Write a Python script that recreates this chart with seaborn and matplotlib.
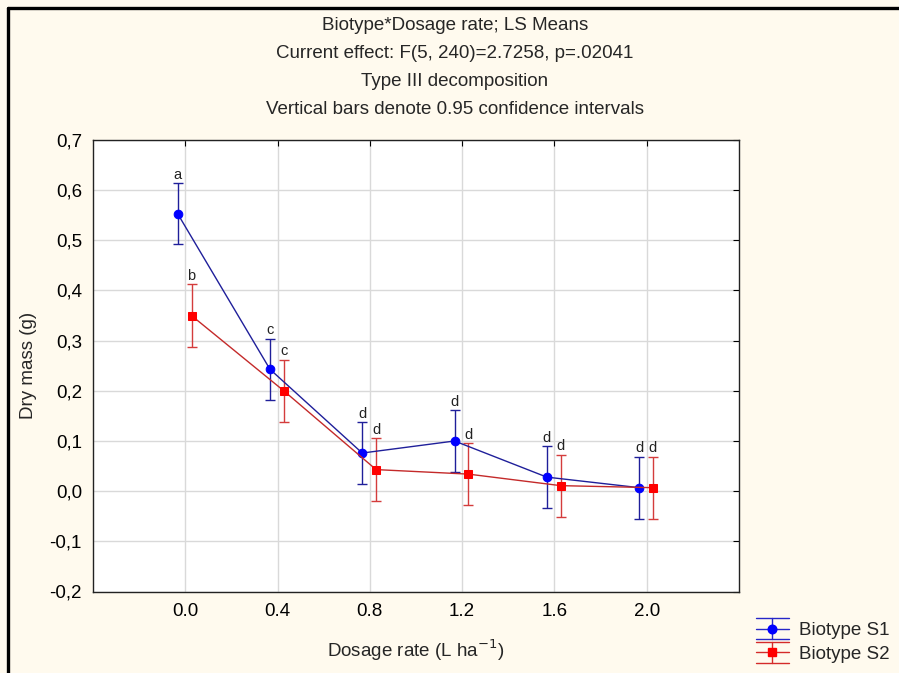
import numpy as np
import pandas as pd
import matplotlib
matplotlib.use("Agg")
import matplotlib.pyplot as plt
import seaborn as sns
from matplotlib.lines import Line2D
from matplotlib.legend_handler import HandlerBase

# ---- data ----
dosage = [0.0, 0.4, 0.8, 1.2, 1.6, 2.0]
dosage_labels = ["0.0", "0.4", "0.8", "1.2", "1.6", "2.0"]
s1_mean = [0.553, 0.243, 0.076, 0.100, 0.028, 0.007]
s2_mean = [0.350, 0.200, 0.043, 0.034, 0.011, 0.007]
s1_ci = [0.061, 0.061, 0.062, 0.062, 0.062, 0.062]
s2_ci = [0.062, 0.062, 0.062, 0.062, 0.062, 0.062]
s1_letters = ["a", "c", "d", "d", "d", "d"]
s2_letters = ["b", "c", "d", "d", "d", "d"]
series_names = ["Biotype S1", "Biotype S2"]
y_ticks = [-0.2, -0.1, 0.0, 0.1, 0.2, 0.3, 0.4, 0.5, 0.6, 0.7]
title_lines = ["Biotype*Dosage rate; LS Means",
               "Current effect: F(5, 240)=2.7258, p=.02041",
               "Type III decomposition",
               "Vertical bars denote 0.95 confidence intervals"]

sns.set_style("white")
plt.rcParams['font.family'] = ['Liberation Sans', 'DejaVu Sans']

FS = 13.5
offsets = [-0.033, 0.027]
line_cols = ["#1f1f9a", "#c42a2a"]
mark_cols = ["#0000ff", "#ff0000"]
err_cols = ["#1f1f9a", "#d43c3c"]
leg_cols = ["#2626c8", "#d42a2a"]
markers = ["o", "s"]
msizes = [6.2, 5.8]


class StatHandle:
    def __init__(self, color, marker, mcolor, ms):
        self.color, self.marker, self.mcolor, self.ms = color, marker, mcolor, ms


class StatHandler(HandlerBase):
    def create_artists(self, legend, orig, xdescent, ydescent, width, height,
                       fontsize, trans):
        x0, x1 = -xdescent, -xdescent + width
        yc = -ydescent + height / 2
        dy = 7.5
        xm = (x0 + x1) / 2
        arts = []
        for yy in (yc - dy, yc, yc + dy):
            arts.append(Line2D([x0, x1], [yy, yy], color=orig.color, lw=1.0,
                               transform=trans))
        arts.append(Line2D([xm, xm], [yc - dy, yc + dy], color=orig.color, lw=1.0,
                           transform=trans))
        arts.append(Line2D([xm], [yc], marker=orig.marker, ms=orig.ms,
                           markerfacecolor=orig.mcolor, markeredgecolor=orig.mcolor,
                           linestyle="none", transform=trans))
        return arts


rows = []
for name, means, cis, off in [(series_names[0], s1_mean, s1_ci, offsets[0]),
                              (series_names[1], s2_mean, s2_ci, offsets[1])]:
    for d, m, c in zip(dosage, means, cis):
        rows.append({"biotype": name, "x": d + off, "mean": m, "ci": c})
df = pd.DataFrame(rows)

fig = plt.figure(figsize=(8.99, 6.73), dpi=100, facecolor="#fffaee")
ax = fig.add_axes([93/899, 1 - 591.5/673, (739-93)/899, (591.5-140)/673])
ax.set_facecolor("white")

handles = []
for i, name in enumerate(series_names):
    sub = df[df["biotype"] == name]
    sns.lineplot(data=sub, x="x", y="mean", ax=ax, color=line_cols[i],
                 linewidth=1.0, marker=markers[i], markersize=msizes[i],
                 markerfacecolor=mark_cols[i], markeredgecolor=mark_cols[i],
                 legend=False, zorder=3)
    ax.errorbar(sub["x"], sub["mean"], yerr=sub["ci"], fmt="none",
                ecolor=err_cols[i], elinewidth=1.0, capsize=3.6,
                capthick=1.0, zorder=2)
    handles.append(StatHandle(leg_cols[i], markers[i], mark_cols[i], msizes[i]))

for means, cis, letters, off in [(s1_mean, s1_ci, s1_letters, offsets[0]),
                                 (s2_mean, s2_ci, s2_letters, offsets[1])]:
    for d, m, c, t in zip(dosage, means, cis, letters):
        ax.annotate(t, (d + off, m + c), xytext=(0, 1.0), textcoords="offset points",
                    ha="center", va="bottom", fontsize=10.5, color="#222222")

ax.set_xlim(-0.4, 2.4)
ax.set_ylim(-0.2, 0.7)
ax.set_xticks(dosage)
ax.set_xticklabels(dosage_labels)
ax.set_yticks(y_ticks)
ax.set_yticklabels([f"{v:.1f}".replace(".", ",") for v in y_ticks])
ax.grid(True, color="#d9d9d9", linewidth=1.0)
ax.set_axisbelow(True)
ax.tick_params(direction="in", length=4, width=0.8, top=True, right=True,
               labelsize=FS, colors="black", pad=8)
for s in ax.spines.values():
    s.set_color("#222222")
    s.set_linewidth(1.0)

ax.set_xlabel("Dosage rate (L ha$^{-1}$)", fontsize=FS, labelpad=13)
ax.set_ylabel("Dry mass (g)", fontsize=FS, labelpad=9)

for k, t in enumerate(title_lines):
    fig.text(455/899, 1 - (25 + 28*k)/673, t, ha="center", va="center", fontsize=FS)

leg = fig.legend(handles, series_names, loc="center left",
                 bbox_to_anchor=(756/899, 1 - 642/673), frameon=False,
                 fontsize=13.5, handlelength=1.75, handletextpad=0.55,
                 labelspacing=0.28, handleheight=0.9, borderpad=0,
                 borderaxespad=0,
                 handler_map={StatHandle: StatHandler()})

# figure border (top and left)
fig.add_artist(Line2D([8/899, 1], [1 - 8/673, 1 - 8/673], color="black",
                      linewidth=2.4, transform=fig.transFigure))
fig.add_artist(Line2D([8/899, 8/899], [0, 1 - 8/673], color="black",
                      linewidth=2.4, transform=fig.transFigure))

fig.savefig("out.png", dpi=100, facecolor=fig.get_facecolor())
